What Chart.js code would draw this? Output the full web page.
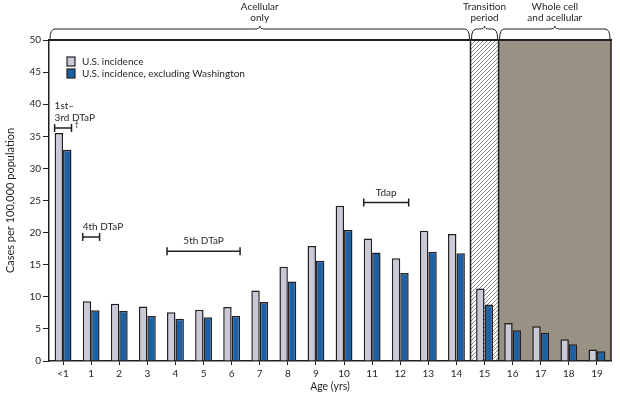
<!DOCTYPE html>
<html>
<head>
<meta charset="utf-8">
<script src="https://cdn.jsdelivr.net/npm/chart.js@4.4.1/dist/chart.umd.min.js"></script>
<style>
  html, body { margin: 0; padding: 0; background: #fff; }
  #wrap { width: 620px; height: 397px; }
</style>
</head>
<body>
<div id="wrap"><canvas id="chart" width="620" height="397"></canvas></div>
<script>
// Pertussis incidence by age, cases per 100,000

const ages = ['<1', '1', '2', '3', '4', '5', '6', '7', '8', '9',
  '10', '11', '12', '13', '14', '15', '16', '17', '18', '19'];
const usIncidence = [35.5, 9.3, 8.9, 8.5, 7.6, 8.0, 8.4, 11.0, 14.7, 17.9,
  24.2, 19.1, 16.0, 20.3, 19.8, 11.3, 5.9, 5.4, 3.4, 1.8];
const usExclWashington = [32.9, 7.9, 7.8, 7.0, 6.6, 6.8, 7.0, 9.2, 12.4, 15.6,
  20.4, 16.9, 13.7, 17.0, 16.8, 8.8, 4.8, 4.4, 2.6, 1.5];
const seriesNames = ['U.S. incidence', 'U.S. incidence, excluding Washington'];
const yMax = 50;
const yStep = 5;

// vaccine eras (index ranges into ages)
const periodLabels = [['Acellular', 'only'], ['Transition', 'period'], ['Whole cell', 'and acellular']];
const periodFrom = [0, 15, 16];
const periodTo = [14, 15, 19];

// vaccine doses (index ranges into ages)
const doseLabels = [['1st–', '3rd DTaP'], ['4th DTaP'], ['5th DTaP'], ['Tdap']];
const doseFrom = [0, 1, 4, 11];
const doseTo = [0, 1, 6, 12];

const FONT = "Lato, 'Liberation Sans', sans-serif";
const INK = '#231f20';
const GREY_BAR = '#c9c9d8';
const BLUE_BAR = '#1c61a5';
const WHOLE_CELL = '#979283';
const GROUP_PCT = 0.6;

// where brackets sit (in y units) and how their labels line up
const doseStyle = [
  { level: 36.3, align: 'left', dagger: true },
  { level: 19.3, align: 'left' },
  { level: 17.1, align: 'center' },
  { level: 24.7, align: 'center' }
];

function hatchPattern(ctx) {
  const c = document.createElement('canvas');
  c.width = 4; c.height = 4;
  const p = c.getContext('2d');
  p.fillStyle = '#fff';
  p.fillRect(0, 0, 4, 4);
  p.strokeStyle = '#8a8a8a';
  p.lineWidth = 1;
  p.beginPath();
  p.moveTo(0, 4); p.lineTo(4, 0);
  p.moveTo(-1, 1); p.lineTo(1, -1);
  p.moveTo(3, 5); p.lineTo(5, 3);
  p.stroke();
  return ctx.createPattern(c, 'repeat');
}

function drawBrace(ctx, x1, x2, yTop, yBot) {
  const xm = (x1 + x2) / 2;
  const r = Math.min(5, (x2 - x1) / 5);
  ctx.beginPath();
  ctx.moveTo(x1, yBot);
  ctx.quadraticCurveTo(x1, yTop, x1 + r, yTop);
  ctx.lineTo(xm - r, yTop);
  ctx.quadraticCurveTo(xm, yTop, xm, yTop - 3);
  ctx.quadraticCurveTo(xm, yTop, xm + r, yTop);
  ctx.lineTo(x2 - r, yTop);
  ctx.quadraticCurveTo(x2, yTop, x2, yBot);
  ctx.stroke();
}

const decorPlugin = {
  id: 'decor',
  beforeDatasetsDraw(chart) {
    const { ctx, chartArea, scales } = chart;
    const x = scales.x;
    const half = x.width / ages.length / 2;
    ctx.save();
    // transition period
    let l = x.getPixelForValue(periodFrom[1]) - half;
    let r = x.getPixelForValue(periodTo[1]) + half;
    ctx.fillStyle = hatchPattern(ctx);
    ctx.fillRect(l, chartArea.top, r - l, chartArea.bottom - chartArea.top - 1);
    // whole cell era
    l = x.getPixelForValue(periodFrom[2]) - half;
    r = x.getPixelForValue(periodTo[2]) + half;
    ctx.fillStyle = WHOLE_CELL;
    ctx.fillRect(l, chartArea.top, r - l, chartArea.bottom - chartArea.top - 1);
    ctx.strokeStyle = INK;
    ctx.lineWidth = 1.5;
    ctx.beginPath();
    ctx.moveTo(x.getPixelForValue(periodFrom[1]) - half, chartArea.top);
    ctx.lineTo(x.getPixelForValue(periodFrom[1]) - half, chartArea.bottom);
    ctx.moveTo(l, chartArea.top);
    ctx.lineTo(l, chartArea.bottom);
    ctx.moveTo(r, chartArea.top);
    ctx.lineTo(r, chartArea.bottom);
    ctx.stroke();
    ctx.restore();
  },
  afterDraw(chart) {
    const { ctx, chartArea, scales } = chart;
    const x = scales.x;
    const y = scales.y;
    const half = x.width / ages.length / 2;
    const groupHalf = half * GROUP_PCT;
    ctx.save();

    // top frame line
    ctx.strokeStyle = INK;
    ctx.lineWidth = 2;
    ctx.beginPath();
    ctx.moveTo(chartArea.left - 1, chartArea.top);
    ctx.lineTo(chartArea.right + 1, chartArea.top);
    ctx.stroke();

    // braces and era labels
    ctx.lineWidth = 1;
    ctx.fillStyle = INK;
    ctx.font = '10px ' + FONT;
    ctx.textAlign = 'center';
    ctx.textBaseline = 'middle';
    periodLabels.forEach((lines, i) => {
      const l = x.getPixelForValue(periodFrom[i]) - half;
      const r = x.getPixelForValue(periodTo[i]) + half;
      drawBrace(ctx, l + 1, r - 1, chartArea.top - 11, chartArea.top - 1);
      lines.forEach((t, k) => ctx.fillText(t, (l + r) / 2, 7 + k * 10.5));
    });

    // dose brackets
    ctx.lineWidth = 1.5;
    doseLabels.forEach((lines, i) => {
      const st = doseStyle[i];
      const l = x.getPixelForValue(doseFrom[i]) - groupHalf;
      const r = x.getPixelForValue(doseTo[i]) + groupHalf;
      const yy = y.getPixelForValue(st.level);
      ctx.beginPath();
      ctx.moveTo(l, yy - 4); ctx.lineTo(l, yy + 4);
      ctx.moveTo(l, yy); ctx.lineTo(r, yy);
      ctx.moveTo(r, yy - 4); ctx.lineTo(r, yy + 4);
      ctx.stroke();
      ctx.textAlign = st.align;
      const tx = st.align === 'left' ? l : (l + r) / 2;
      const n = lines.length;
      lines.forEach((t, k) => ctx.fillText(t, tx, yy - 10 - (n - 1 - k) * 12.5));
      if (st.dagger) {
        ctx.font = '8px ' + FONT;
        ctx.textAlign = 'left';
        ctx.fillText('†', r + 3, yy - 4);
        ctx.font = '10px ' + FONT;
      }
    });

    // legend
    const colors = [GREY_BAR, BLUE_BAR];
    ctx.textAlign = 'left';
    seriesNames.forEach((name, i) => {
      const ly = 57 + i * 12;
      ctx.fillStyle = colors[i];
      ctx.fillRect(67, ly, 8, 9);
      ctx.strokeStyle = INK;
      ctx.lineWidth = 1.2;
      ctx.strokeRect(67, ly, 8, 9);
      ctx.fillStyle = INK;
      ctx.fillText(name, 82, ly + 4.5);
    });
    ctx.restore();
  }
};

new Chart(document.getElementById('chart'), {
  type: 'bar',
  data: {
    labels: ages,
    datasets: [{
      label: seriesNames[0],
      data: usIncidence,
      backgroundColor: GREY_BAR,
      borderColor: INK,
      borderWidth: 1.5,
      barPercentage: 1,
      categoryPercentage: GROUP_PCT
    }, {
      label: seriesNames[1],
      data: usExclWashington,
      backgroundColor: BLUE_BAR,
      borderColor: INK,
      borderWidth: 1.5,
      barPercentage: 1,
      categoryPercentage: GROUP_PCT
    }]
  },
  options: {
    responsive: false,
    animation: false,
    devicePixelRatio: 1,
    layout: { padding: { top: 40, right: 9, left: 0, bottom: 0 } },
    plugins: {
      legend: { display: false },
      tooltip: { enabled: false }
    },
    scales: {
      x: {
        grid: { offset: false, drawOnChartArea: false, drawTicks: true, tickLength: 4, color: INK },
        border: { display: true, color: INK, width: 1.5 },
        ticks: { color: INK, font: { family: FONT, size: 10 }, padding: 3, maxRotation: 0, autoSkip: false },
        title: { display: true, text: 'Age (yrs)', color: INK, font: { family: FONT, size: 10.5 }, padding: { top: 0, bottom: 4 } },
        afterFit(scale) { scale.height = 36; }
      },
      y: {
        min: 0,
        max: yMax,
        grid: { drawOnChartArea: false, drawTicks: true, tickLength: 6, color: INK },
        border: { display: true, color: INK, width: 1.5 },
        ticks: { stepSize: yStep, color: INK, font: { family: FONT, size: 10 }, padding: 2 },
        title: { display: true, text: 'Cases per 100,000 population', color: INK, font: { family: FONT, size: 11 }, padding: { top: 4, bottom: 0 } },
        afterFit(scale) { scale.width = 49; }
      }
    }
  },
  plugins: [decorPlugin]
});
</script>
</body>
</html>
